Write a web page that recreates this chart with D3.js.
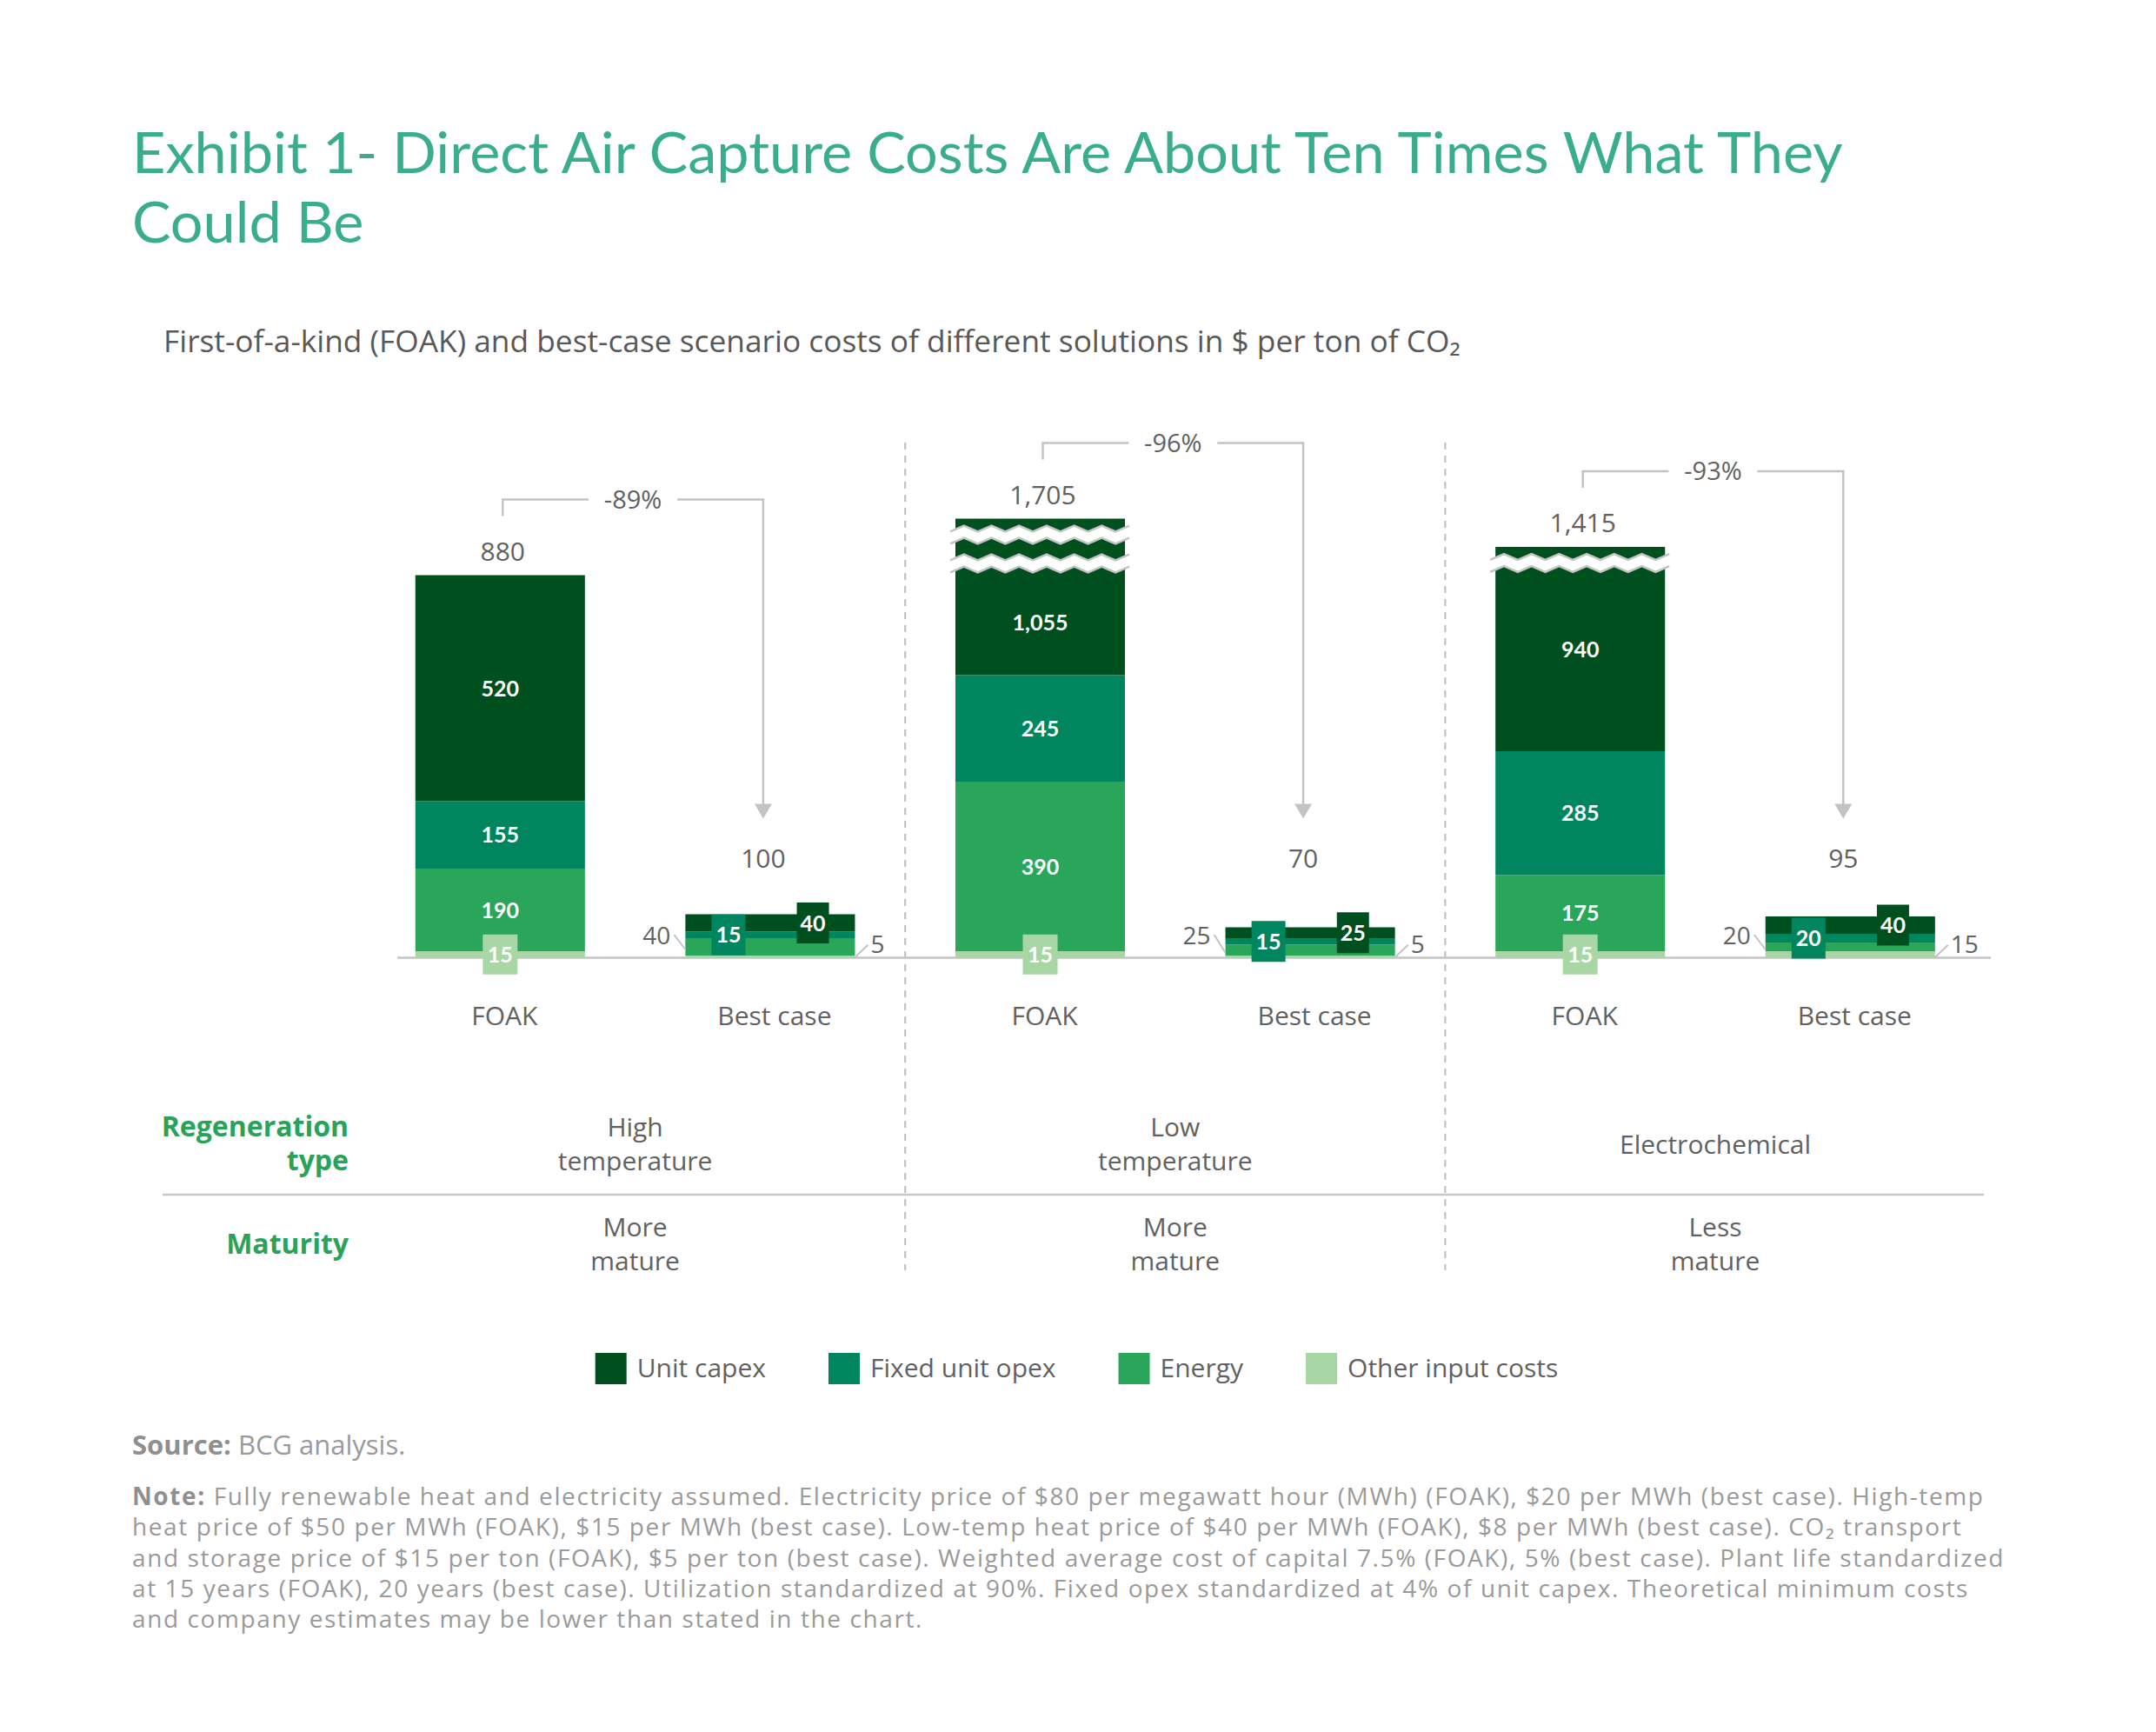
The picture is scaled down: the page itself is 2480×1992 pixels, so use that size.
<!DOCTYPE html>
<html>
<head>
<meta charset="utf-8">
<script src="https://cdn.jsdelivr.net/npm/d3@7/dist/d3.min.js"></script>
<style>
  html, body { margin: 0; padding: 0; background: #ffffff; }
  svg { display: block; }
</style>
</head>
<body>
<svg id="chart" width="2480" height="1992"></svg>
<script>
// ---------------- DATA ----------------
const titleLines = ["Exhibit 1- Direct Air Capture Costs Are About Ten Times What They", "Could Be"];
const subtitle = "First-of-a-kind (FOAK) and best-case scenario costs of different solutions in $ per ton of CO\u2082";

const seriesKeys = ["capex", "opex", "energy", "other"];
const seriesNames = ["Unit capex", "Fixed unit opex", "Energy", "Other input costs"];
const seriesColors = ["#00501f", "#00865f", "#29a65a", "#a9d6a5"];

const groups = ["High temperature", "Low temperature", "Electrochemical"];
const scenarios = ["FOAK", "Best case"];
const regenLines = [["High", "temperature"], ["Low", "temperature"], ["Electrochemical"]];
const maturityLines = [["More", "mature"], ["More", "mature"], ["Less", "mature"]];

const foakCapex  = [520, 1055, 940];
const foakOpex   = [155, 245, 285];
const foakEnergy = [190, 390, 175];
const foakOther  = [15, 15, 15];

const bestCapex  = [40, 25, 40];
const bestOpex   = [15, 15, 20];
const bestEnergy = [40, 25, 20];
const bestOther  = [5, 5, 15];

const reductions = ["-89%", "-96%", "-93%"];
// broken FOAK bars: value at which the drawn bar is cut, and number of break marks
const foakShownTop = [null, 1010, 945];
const foakBreaks   = [0, 2, 1];

const sourceLabel = "Source:";
const sourceText = " BCG analysis.";
const noteLabel = "Note:";
const noteLines = [
  " Fully renewable heat and electricity assumed. Electricity price of $80 per megawatt hour (MWh) (FOAK), $20 per MWh (best case). High-temp",
  "heat price of $50 per MWh (FOAK), $15 per MWh (best case). Low-temp heat price of $40 per MWh (FOAK), $8 per MWh (best case). CO\u2082 transport",
  "and storage price of $15 per ton (FOAK), $5 per ton (best case). Weighted average cost of capital 7.5% (FOAK), 5% (best case). Plant life standardized",
  "at 15 years (FOAK), 20 years (best case). Utilization standardized at 90%. Fixed opex standardized at 4% of unit capex. Theoretical minimum costs",
  "and company estimates may be lower than stated in the chart."
];

// ---------------- SETUP ----------------
const svg = d3.select("#chart");
const OPEN = "'Open Sans', 'Noto Sans', 'DejaVu Sans', sans-serif";
const LATO = "Lato, 'Open Sans', sans-serif";
const GRAY = "#616161";
const LINE = "#c3c3c3";
const GREEN_LABEL = "#2aa35a";
const fmt = d3.format(",");

const color = d3.scaleOrdinal().domain(seriesKeys).range(seriesColors);

function fitSpacing(sel, target, maxLs) {
  const n = sel.node();
  const w = n.getComputedTextLength();
  const chars = n.textContent.length;
  let ls = (target - w) / Math.max(1, chars - 1);
  ls = Math.max(-maxLs, Math.min(maxLs, ls));
  sel.attr("letter-spacing", ls.toFixed(3));
}
function fitSize(sel, base, target, lo, hi) {
  const w = sel.node().getComputedTextLength();
  const fs = Math.max(lo, Math.min(hi, base * target / w));
  sel.attr("font-size", fs);
  return fs;
}

// ---------------- TITLE ----------------
const titleG = svg.append("g").attr("fill", "#3bad8f").style("font-family", LATO);
titleLines.forEach((t, i) => {
  titleG.append("text").attr("x", 152).attr("y", 199 + i * 80).attr("font-size", 64).text(t);
});
{
  const w0 = titleG.select("text").node().getComputedTextLength();
  const fs = Math.max(56, Math.min(70, 64 * 1968 / w0));
  titleG.selectAll("text").attr("font-size", fs);
}

const sub = svg.append("text").attr("x", 188).attr("y", 405)
  .style("font-family", OPEN).attr("font-size", 31).attr("fill", "#585858").text(subtitle);
fitSize(sub, 31, 1492, 28, 36);

// ---------------- ROWS ----------------
const rows = [];
groups.forEach((g, i) => {
  rows.push({ key: g + "|" + scenarios[0], group: i, scen: 0,
    capex: foakCapex[i], opex: foakOpex[i], energy: foakEnergy[i], other: foakOther[i],
    cap: foakShownTop[i], breaks: foakBreaks[i] });
  rows.push({ key: g + "|" + scenarios[1], group: i, scen: 1,
    capex: bestCapex[i], opex: bestOpex[i], energy: bestEnergy[i], other: bestOther[i],
    cap: null, breaks: 0 });
});
rows.forEach(r => { r.total = r.capex + r.opex + r.energy + r.other; });

const stackOrder = ["other", "energy", "opex", "capex"];
const stacked = d3.stack().keys(stackOrder)(rows);

const x = d3.scaleBand().domain(rows.map(r => r.key)).range([420, 2283.6])
  .paddingInner(0.372).paddingOuter(0.186);
const y = d3.scaleLinear().domain([0, 1000]).range([1101.5, 601.5]);
const bw = x.bandwidth();
const cx = k => x(k) + bw / 2;
const topVal = d => (d.data.cap ? Math.min(d[1], d.data.cap) : d[1]);

// ---------------- DIVIDERS ----------------
const step = x.step();
[0, 1].forEach(i => {
  const bestKey = rows[i * 2 + 1].key;
  const dx = x(bestKey) + bw + (step - bw) / 2;
  svg.append("line").attr("x1", dx).attr("x2", dx).attr("y1", 509).attr("y2", 1461)
    .attr("stroke", "#bdbdbd").attr("stroke-width", 2).attr("stroke-dasharray", "8,7");
});

// ---------------- BASELINE ----------------
svg.append("line").attr("x1", 457).attr("x2", 2290).attr("y1", y(0)).attr("y2", y(0))
  .attr("stroke", LINE).attr("stroke-width", 2.5);

// ---------------- BARS ----------------
const barsG = svg.append("g");
stacked.forEach(layer => {
  barsG.append("g").selectAll("rect").data(layer).join("rect")
    .attr("x", d => x(d.data.key))
    .attr("width", bw)
    .attr("y", d => y(topVal(d)))
    .attr("height", d => y(d[0]) - y(topVal(d)))
    .attr("fill", color(layer.key));
});

// ---------------- BREAK MARKS ----------------
function zigPoints(x0, x1, base, amp, period) {
  const pts = [];
  let k = 0;
  for (let xx = x0; xx <= x1 + 0.01; xx += period / 2, k++) {
    pts.push([xx, base + (k % 2 === 0 ? amp : -amp)]);
  }
  return pts;
}
const breakG = svg.append("g");
rows.filter(r => r.breaks > 0).forEach(r => {
  for (let k = 0; k < r.breaks; k++) {
    const cy = y(r.cap) + 18.5 + 33 * k;
    const x0 = x(r.key) - 6, x1 = x(r.key) + bw + 10;
    const top = zigPoints(x0, x1, cy - 7, 3.3, 31.7);
    const bot = zigPoints(x0, x1, cy + 7, 3.3, 31.7);
    const poly = top.concat(bot.slice().reverse());
    breakG.append("path").attr("d", d3.line()(poly) + "Z").attr("fill", "#ffffff");
    breakG.append("path").attr("d", d3.line()(top)).attr("fill", "none")
      .attr("stroke", LINE).attr("stroke-width", 2.5);
    breakG.append("path").attr("d", d3.line()(bot)).attr("fill", "none")
      .attr("stroke", LINE).attr("stroke-width", 2.5);
  }
});

// ---------------- SEGMENT LABELS ----------------
const labG = svg.append("g").style("font-family", LATO).attr("font-weight", 700)
  .attr("font-size", 25).attr("fill", "#ffffff").attr("text-anchor", "middle");

function box(xc, yc, w, h, fill, txt) {
  labG.append("rect").attr("x", xc - w / 2).attr("y", yc - h / 2).attr("width", w).attr("height", h)
    .attr("fill", fill);
  labG.append("text").attr("x", xc).attr("y", yc).attr("dy", "0.36em").text(txt);
}

stacked.forEach(layer => {
  layer.forEach(d => {
    const r = d.data;
    const key = layer.key;
    const val = r[key];
    const yTop = y(topVal(d)), yBot = y(d[0]);
    let yc = (yTop + yBot) / 2;
    if (r.scen === 0) {
      if (key === "other") {
        box(cx(r.key), yc, 40, 46, color(key), val);
      } else {
        if (key === "capex" && r.breaks > 1) {
          const lastBreak = y(r.cap) + 18.5 + 33 * (r.breaks - 1) + 7;
          yc = (lastBreak + yBot) / 2;
        }
        labG.append("text").attr("x", cx(r.key)).attr("y", yc).attr("dy", "0.36em").text(fmt(val));
      }
    } else {
      if (key === "opex") box(x(r.key) + bw * 0.254, yc, 39, 47, color(key), val);
      if (key === "capex") box(x(r.key) + bw * 0.752, yc, 37, 47, color(key), val);
    }
  });
});

// side labels for best case (energy left, other right)
const sideG = svg.append("g").style("font-family", OPEN).attr("font-size", 28).attr("fill", GRAY);
rows.filter(r => r.scen === 1).forEach(r => {
  const xl = x(r.key), xr = x(r.key) + bw;
  const eMid = y(r.other + r.energy / 2);
  sideG.append("line").attr("x1", xl - 13).attr("y1", 1075).attr("x2", xl).attr("y2", Math.min(eMid + 3, 1097))
    .attr("stroke", LINE).attr("stroke-width", 2);
  sideG.append("text").attr("x", xl - 17).attr("y", 1086).attr("text-anchor", "end").text(r.energy);
  sideG.append("line").attr("x1", xr).attr("y1", y(0) - 0.5).attr("x2", xr + 15).attr("y2", 1086.7)
    .attr("stroke", LINE).attr("stroke-width", 2);
  sideG.append("text").attr("x", xr + 18).attr("y", 1096).attr("text-anchor", "start").text(r.other);
});

// ---------------- TOTALS, BRACKETS, ARROWS ----------------
const totG = svg.append("g").style("font-family", OPEN).attr("font-size", 30).attr("fill", GRAY)
  .attr("text-anchor", "middle");
const bestLabelY = y(d3.max(rows.filter(r => r.scen === 1), r => r.total)) - 54;
const tipY = bestLabelY - 56;

groups.forEach((g, i) => {
  const f = rows[i * 2], b = rows[i * 2 + 1];
  const fTop = y(f.cap ? Math.min(f.cap, f.total) : f.total);
  totG.append("text").attr("x", cx(f.key) + 3).attr("y", fTop - 17).text(fmt(f.total));
  const xb = cx(b.key) - 8;
  totG.append("text").attr("x", xb).attr("y", bestLabelY).text(fmt(b.total));

  const by = fTop - 87;
  const xl = cx(f.key) + 3;
  const mid = (xl + xb) / 2;
  const p = d3.path();
  p.moveTo(xl, by + 19); p.lineTo(xl, by); p.lineTo(mid - 51, by);
  p.moveTo(mid + 51, by); p.lineTo(xb, by); p.lineTo(xb, tipY - 16);
  svg.append("path").attr("d", p.toString()).attr("fill", "none").attr("stroke", LINE).attr("stroke-width", 2.5);
  svg.append("path").attr("d", d3.line()([[xb - 10, tipY - 17], [xb + 10, tipY - 17], [xb, tipY]]) + "Z")
    .attr("fill", LINE);
  totG.append("text").attr("x", mid).attr("y", by).attr("dy", "0.36em").attr("font-size", 29).text(reductions[i]);
});

// ---------------- X AXIS LABELS ----------------
const axisG = svg.append("g").attr("transform", `translate(5,${y(0)})`)
  .call(d3.axisBottom(x).tickSize(0).tickFormat(k => k.split("|")[1]));
axisG.select(".domain").remove();
axisG.selectAll("text").attr("y", 77.8).attr("dy", 0)
  .style("font-family", OPEN).attr("font-size", 30).attr("fill", GRAY);

// ---------------- CATEGORY ROWS ----------------
const rowG = svg.append("g").style("font-family", OPEN);
function rowLabel(lines, yMid) {
  lines.forEach((t, j) => {
    rowG.append("text").attr("x", 401).attr("y", yMid + (j - (lines.length - 1) / 2) * 39.5 + 10.7)
      .attr("text-anchor", "end").attr("font-weight", 700).attr("font-size", 32)
      .attr("fill", GREEN_LABEL).text(t);
  });
}
rowLabel(["Regeneration", "type"], 1316);
rowLabel(["Maturity"], 1431);

groups.forEach((g, i) => {
  const gx = (x(rows[i * 2].key) - (step - bw) / 2 + x(rows[i * 2 + 1].key) + bw + (step - bw) / 2) / 2;
  [[regenLines[i], 1316], [maturityLines[i], 1431]].forEach(([lines, yMid]) => {
    lines.forEach((t, j) => {
      rowG.append("text").attr("x", gx).attr("y", yMid + (j - (lines.length - 1) / 2) * 39.5 + 10.7)
        .attr("text-anchor", "middle").attr("font-size", 30).attr("fill", GRAY).text(t);
    });
  });
});
svg.append("line").attr("x1", 187).attr("x2", 2282).attr("y1", 1374).attr("y2", 1374)
  .attr("stroke", "#c8c8c8").attr("stroke-width", 2.5);

// ---------------- LEGEND ----------------
const legG = svg.append("g").style("font-family", OPEN);
let lx = 0;
seriesKeys.forEach((k, i) => {
  const it = legG.append("g");
  it.append("rect").attr("x", 0).attr("y", 1556).attr("width", 36).attr("height", 36).attr("fill", color(k));
  const t = it.append("text").attr("x", 48).attr("y", 1584).attr("font-size", 30).attr("fill", GRAY).text(seriesNames[i]);
  const w = t.node().getComputedTextLength();
  it.attr("transform", `translate(${lx},0)`);
  lx += 48 + w + 72;
});
const legW = lx - 72;
legG.attr("transform", `translate(${1238.5 - legW / 2},0)`);

// ---------------- SOURCE & NOTE ----------------
const noteG = svg.append("g").style("font-family", OPEN).attr("font-size", 28).attr("fill", "#9a9a9a");
const noteTargets = [2157, 2133, 2159, 2127, 914];
noteLines.forEach((t, i) => {
  const tx = noteG.append("text").attr("x", 152).attr("y", 1731 + i * 35.3);
  if (i === 0) tx.append("tspan").attr("font-weight", 700).attr("fill", "#8f8f8f").text(noteLabel);
  tx.append("tspan").text(t);
  fitSpacing(tx, noteTargets[i], 1.6);
});
const src = noteG.append("text").attr("x", 152).attr("y", 1673);
src.append("tspan").attr("font-weight", 700).attr("fill", "#8f8f8f").text(sourceLabel);
src.append("tspan").text(sourceText);
fitSize(src, 28, 321, 27, 31);
</script>
</body>
</html>
